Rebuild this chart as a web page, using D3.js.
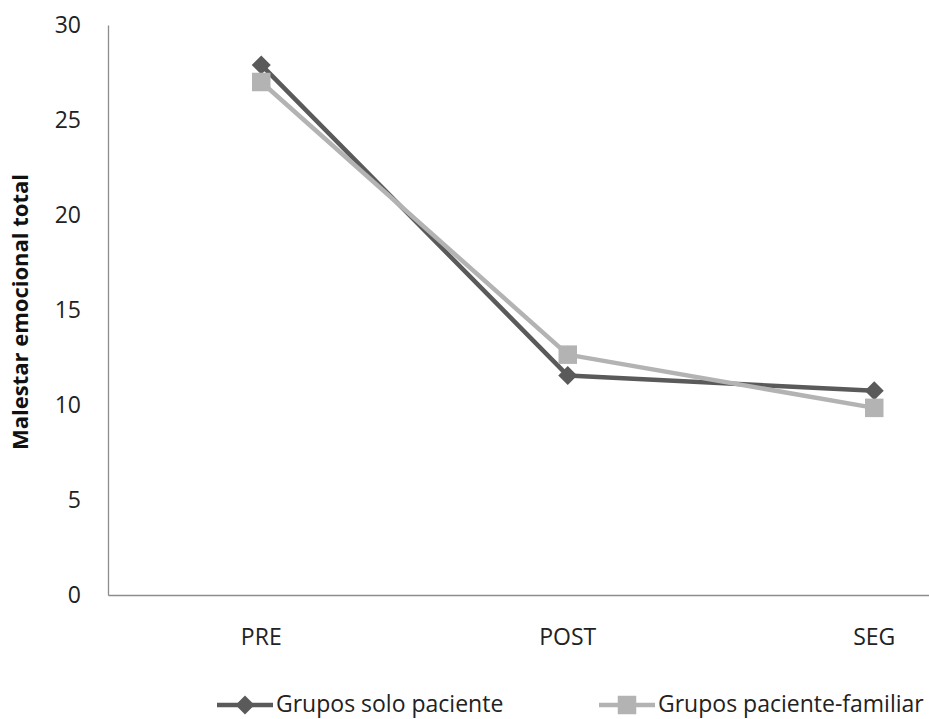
<!DOCTYPE html>
<html>
<head>
<meta charset="utf-8">
<script src="https://cdn.jsdelivr.net/npm/d3@7"></script>
<style>
  html, body { margin: 0; padding: 0; background: #fff; }
  svg { display: block; font-family: "Open Sans", "Noto Sans", sans-serif; }
</style>
</head>
<body>
<svg id="chart" width="929" height="719"></svg>
<script>
// Measurement times and mean total emotional distress per group
const categories = ["PRE", "POST", "SEG"];
const soloPaciente = [27.9, 11.55, 10.75];
const pacienteFamiliar = [27.0, 12.65, 9.85];
const yTicks = [0, 5, 10, 15, 20, 25, 30];
const seriesNames = ["Grupos solo paciente", "Grupos paciente-familiar"];

const svg = d3.select("#chart");
const plot = { left: 108, top: 25, bottom: 595 };
const fontSize = 23;

// Category axis runs past the right edge of the figure
const x = d3.scaleBand().domain(categories).range([plot.left, plot.left + 3 * 306.5]).padding(0);
const cx = c => x(c) + x.bandwidth() / 2;
const y = d3.scaleLinear().domain([0, 30]).range([plot.bottom, plot.top]);

const axisColor = "#8c8c8c";
const textColor = "#222";

// Y axis
const yAxis = svg.append("g")
  .attr("transform", `translate(${plot.left},0)`)
  .call(d3.axisLeft(y).tickValues(yTicks).tickSize(0).tickPadding(27));
yAxis.select(".domain").attr("stroke", axisColor).attr("stroke-width", 1.3);
yAxis.selectAll("text").attr("font-size", fontSize).attr("fill", textColor)
  .attr("font-family", "'Open Sans', sans-serif");

// X axis
const xAxis = svg.append("g")
  .attr("transform", `translate(0,${plot.bottom})`)
  .call(d3.axisBottom(x).tickSize(0).tickPadding(34));
xAxis.select(".domain").attr("stroke", axisColor).attr("stroke-width", 1.3);
xAxis.selectAll("text").attr("font-size", fontSize).attr("fill", textColor)
  .attr("font-family", "'Open Sans', sans-serif");

// Y axis title
svg.append("text")
  .attr("transform", `translate(28,${(plot.top + plot.bottom) / 2 + 2}) rotate(-90)`)
  .attr("text-anchor", "middle")
  .attr("font-size", 22)
  .attr("font-weight", "bold")
  .attr("fill", "#111")
  .text("Malestar emocional total");

const series = [
  { name: seriesNames[0], values: soloPaciente, color: "#5a5a5a", width: 4.5, marker: "diamond" },
  { name: seriesNames[1], values: pacienteFamiliar, color: "#b3b3b3", width: 4.5, marker: "square" }
];

const line = d3.line().x((d, i) => cx(categories[i])).y(d => y(d));

function drawMarker(g, type, px, py, color) {
  if (type === "diamond") {
    const r = 9.5;
    g.append("path")
      .attr("d", `M${px},${py - r}L${px + r},${py}L${px},${py + r}L${px - r},${py}Z`)
      .attr("fill", color);
  } else {
    const s = 18.5;
    g.append("rect")
      .attr("x", px - s / 2).attr("y", py - s / 2)
      .attr("width", s).attr("height", s)
      .attr("fill", color);
  }
}

series.forEach(s => {
  const g = svg.append("g");
  g.append("path")
    .attr("d", line(s.values))
    .attr("fill", "none")
    .attr("stroke", s.color)
    .attr("stroke-width", s.width)
    .attr("stroke-linejoin", "round");
  s.values.forEach((v, i) => drawMarker(g, s.marker, cx(categories[i]), y(v), s.color));
});

// Legend along the bottom edge
const legendItems = [
  { s: series[0], lx: 217 },
  { s: series[1], lx: 599 }
];
const ly = 705;
legendItems.forEach(({ s, lx }) => {
  const g = svg.append("g");
  g.append("line")
    .attr("x1", lx).attr("x2", lx + 56)
    .attr("y1", ly).attr("y2", ly)
    .attr("stroke", s.color).attr("stroke-width", s.width);
  drawMarker(g, s.marker, lx + 28, ly, s.color);
  g.append("text")
    .attr("x", lx + 59).attr("y", ly + 6.5)
    .attr("font-size", fontSize)
    .attr("fill", textColor)
    .text(s.name);
});
</script>
</body>
</html>
